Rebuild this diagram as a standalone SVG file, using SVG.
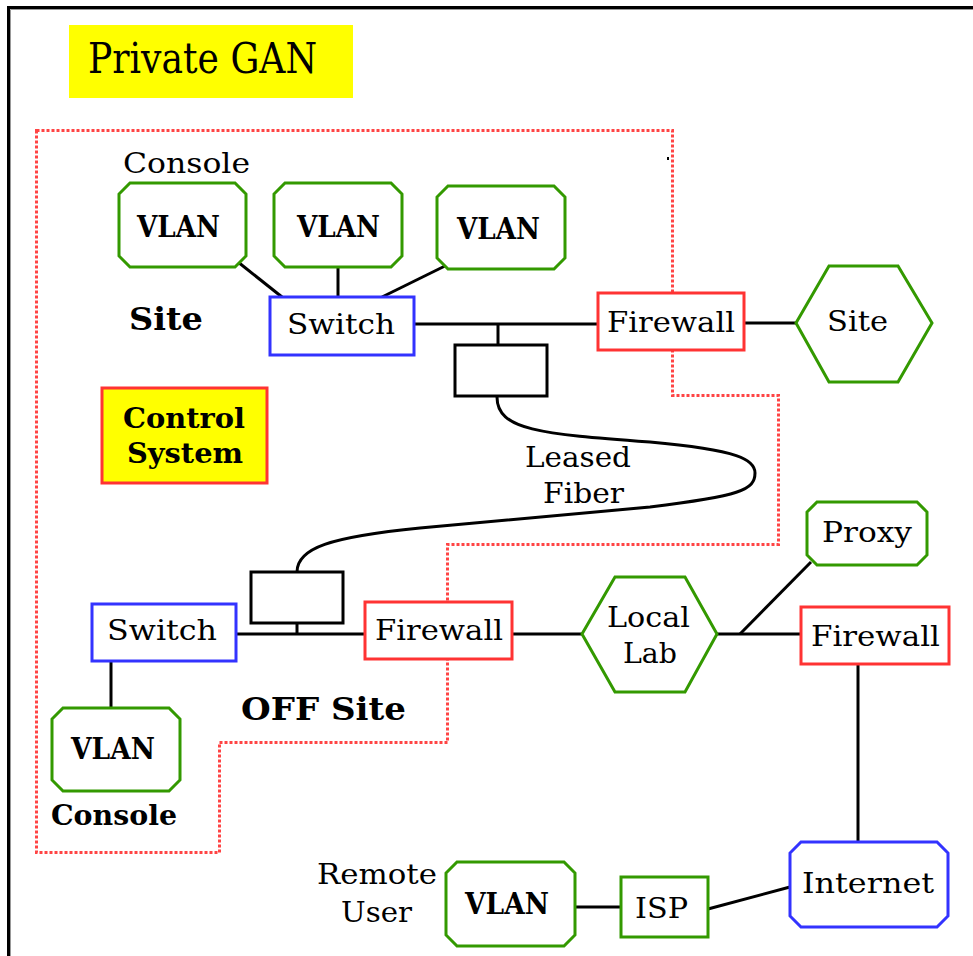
<svg xmlns="http://www.w3.org/2000/svg" width="973" height="956" viewBox="0 0 973 956">
<style>
.t{font-family:"DejaVu Serif","Liberation Serif",serif;font-size:28px;fill:#000}
.b{font-family:"DejaVu Serif","Liberation Serif",serif;font-size:28px;font-weight:bold;fill:#000}
.v{font-size:30px}
.g{fill:#fff;stroke:#339900;stroke-width:3}
.bl{fill:#fff;stroke:#3333ff;stroke-width:3}
.rd{fill:#fff;stroke:#ff3333;stroke-width:3}
.bx{fill:#fff;stroke:#000;stroke-width:3}
.c{fill:none;stroke:#000;stroke-width:3}
</style>
<rect width="973" height="956" fill="#fff"/>
<path d="M8.5,956 V7.5 H973" fill="none" stroke="#000" stroke-width="3"/>
<path d="M10.5,956 V9.5 H973" fill="none" stroke="#999" stroke-width="1"/>

<g id="title">
<rect x="69" y="25" width="284" height="73" fill="#ffff00"/>
<text class="t" x="88" y="73" style="font-size:42px" textLength="229" lengthAdjust="spacingAndGlyphs">Private GAN</text>
</g>

<g id="boundary">
<path d="M36.5,130.5 H672.5 V395.5 H778.5 V544.5 H447.5 V742.5 H219.5 V852.5 H36.5 Z" fill="none" stroke="#ff4444" stroke-width="3" stroke-dasharray="3,2"/>
<rect x="667" y="157" width="2" height="3" fill="#000"/>
</g>

<g id="connectors">
<line class="c" x1="238" y1="262" x2="282" y2="297"/>
<line class="c" x1="338" y1="267" x2="338" y2="297"/>
<line class="c" x1="449" y1="264" x2="382" y2="297"/>
<line class="c" x1="414" y1="324" x2="598" y2="324"/>
<line class="c" x1="498" y1="324" x2="498" y2="345"/>
<line class="c" x1="744" y1="323" x2="796" y2="323"/>
<path class="c" d="M497,397 C497,430 540,434 650,442 C740,450 755,460 755,473 C755,490 740,496 650,507 L420,528 C330,537 297,548 297,572"/>
<line class="c" x1="236" y1="634" x2="365" y2="634"/>
<line class="c" x1="297" y1="623" x2="297" y2="634"/>
<line class="c" x1="111" y1="661" x2="111" y2="708"/>
<line class="c" x1="512" y1="634" x2="582" y2="634"/>
<line class="c" x1="717" y1="634" x2="801" y2="634"/>
<line class="c" x1="740" y1="634" x2="811" y2="562"/>
<line class="c" x1="858" y1="664" x2="858" y2="842"/>
<line class="c" x1="575" y1="907" x2="621" y2="907"/>
<line class="c" x1="708" y1="909" x2="790" y2="887"/>
</g>

<g id="console-top-label"><text class="t" x="123" y="173" textLength="127" lengthAdjust="spacingAndGlyphs">Console</text></g>
<g id="vlan1"><path class="g" d="M130,183 H235 L246,194 V256 L235,267 H130 L119,256 V194 Z"/><text class="b v" x="137" y="237" textLength="83" lengthAdjust="spacingAndGlyphs">VLAN</text></g>
<g id="vlan2"><path class="g" d="M285,183 H391 L402,194 V256 L391,267 H285 L274,256 V194 Z"/><text class="b v" x="297" y="237" textLength="83" lengthAdjust="spacingAndGlyphs">VLAN</text></g>
<g id="vlan3"><path class="g" d="M448,186 H554 L565,197 V258 L554,269 H448 L437,258 V197 Z"/><text class="b v" x="457" y="239" textLength="83" lengthAdjust="spacingAndGlyphs">VLAN</text></g>
<g id="site-label"><text class="b" x="129" y="330" style="font-size:32px" textLength="74" lengthAdjust="spacingAndGlyphs">Site</text></g>
<g id="switch-top"><rect class="bl" x="270" y="297" width="144" height="58"/><text class="t" x="287" y="334" textLength="108" lengthAdjust="spacingAndGlyphs">Switch</text></g>
<g id="box-top"><rect class="bx" x="455" y="345" width="92" height="51"/></g>
<g id="firewall-top"><rect class="rd" x="598" y="293" width="146" height="57"/><text class="t" x="607" y="332" textLength="128" lengthAdjust="spacingAndGlyphs">Firewall</text></g>
<g id="site-hex"><path class="g" d="M796,323 L829,266 H898 L932,323 L898,382 H829 Z"/><text class="t" x="827" y="331" textLength="61" lengthAdjust="spacingAndGlyphs">Site</text></g>
<g id="control-system"><rect x="102" y="388" width="165" height="95" fill="#ffff00" stroke="#ff3333" stroke-width="3"/><text class="b" x="123" y="428" textLength="122" lengthAdjust="spacingAndGlyphs">Control</text><text class="b" x="127" y="463" textLength="116" lengthAdjust="spacingAndGlyphs">System</text></g>
<g id="fiber-label"><text class="t" x="525" y="467" textLength="106" lengthAdjust="spacingAndGlyphs">Leased</text><text class="t" x="543" y="503" textLength="81" lengthAdjust="spacingAndGlyphs">Fiber</text></g>
<g id="proxy"><path class="g" d="M817,502 H917 L927,512 V555 L917,565 H817 L807,555 V512 Z"/><text class="t" x="822" y="542" textLength="90" lengthAdjust="spacingAndGlyphs">Proxy</text></g>
<g id="box-bottom"><rect class="bx" x="251" y="572" width="92" height="51"/></g>
<g id="switch-bottom"><rect class="bl" x="92" y="604" width="144" height="57"/><text class="t" x="107" y="640" textLength="110" lengthAdjust="spacingAndGlyphs">Switch</text></g>
<g id="firewall-bottom"><rect class="rd" x="365" y="602" width="147" height="57"/><text class="t" x="375" y="640" textLength="128" lengthAdjust="spacingAndGlyphs">Firewall</text></g>
<g id="local-lab"><path class="g" d="M582,634 L615,577 H685 L717,634 L685,692 H615 Z"/><text class="t" x="607" y="627" textLength="83" lengthAdjust="spacingAndGlyphs">Local</text><text class="t" x="623" y="663" textLength="54" lengthAdjust="spacingAndGlyphs">Lab</text></g>
<g id="firewall-right"><rect class="rd" x="801" y="607" width="148" height="57"/><text class="t" x="811" y="646" textLength="129" lengthAdjust="spacingAndGlyphs">Firewall</text></g>
<g id="off-site-label"><text class="b" x="241" y="720" style="font-size:32px" textLength="165" lengthAdjust="spacingAndGlyphs">OFF Site</text></g>
<g id="vlan-bottom"><path class="g" d="M63,708 H169 L180,719 V780 L169,791 H63 L52,780 V719 Z"/><text class="b v" x="71" y="759" textLength="84" lengthAdjust="spacingAndGlyphs">VLAN</text></g>
<g id="console-bottom-label"><text class="b" x="51" y="825" textLength="126" lengthAdjust="spacingAndGlyphs">Console</text></g>
<g id="remote-user-label"><text class="t" x="317" y="884" textLength="120" lengthAdjust="spacingAndGlyphs">Remote</text><text class="t" x="341" y="922" textLength="71" lengthAdjust="spacingAndGlyphs">User</text></g>
<g id="vlan-remote"><path class="g" d="M457,862 H564 L575,873 V935 L564,946 H457 L446,935 V873 Z"/><text class="b v" x="465" y="914" textLength="84" lengthAdjust="spacingAndGlyphs">VLAN</text></g>
<g id="isp"><rect class="g" x="621" y="877" width="87" height="60"/><text class="t" x="635" y="918" textLength="53" lengthAdjust="spacingAndGlyphs">ISP</text></g>
<g id="internet"><path class="bl" d="M801,842 H937 L948,853 V916 L937,927 H801 L790,916 V853 Z"/><text class="t" x="802" y="893" textLength="132" lengthAdjust="spacingAndGlyphs">Internet</text></g>
</svg>
